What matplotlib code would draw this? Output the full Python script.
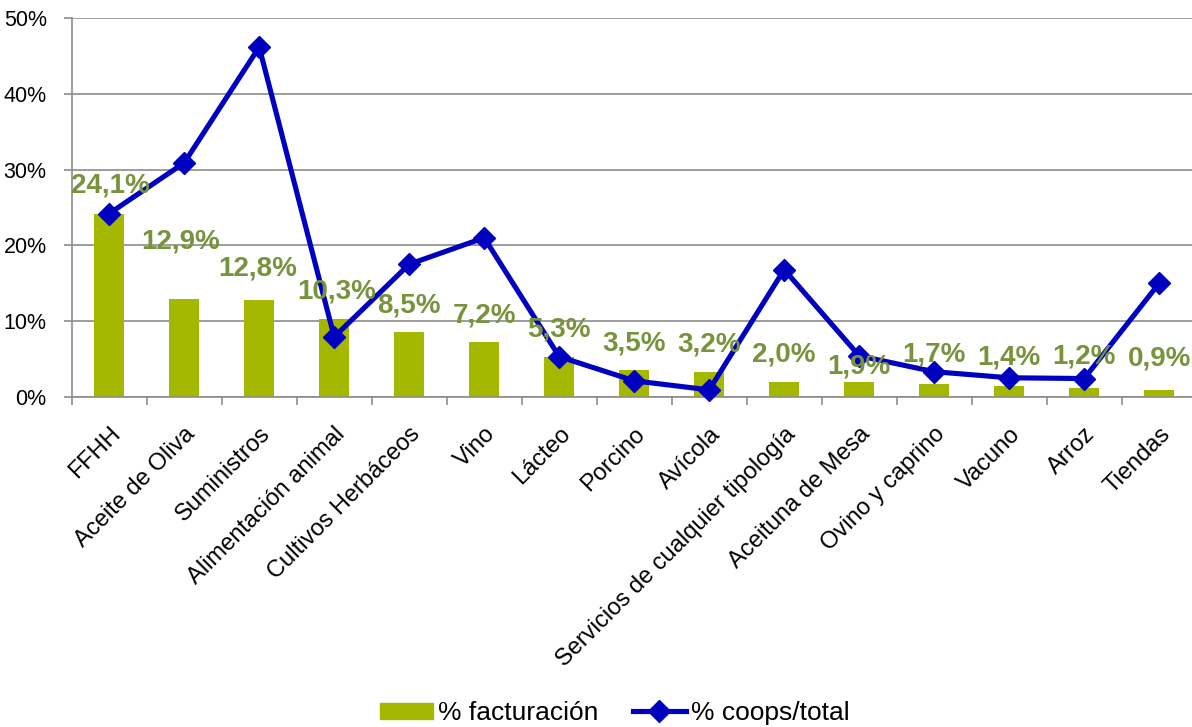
import matplotlib
matplotlib.use("Agg")
import matplotlib.pyplot as plt
from matplotlib.patches import Patch
from matplotlib.lines import Line2D
import numpy as np

plt.rcParams['font.family'] = ['Liberation Sans', 'DejaVu Sans']

categories = ["FFHH", "Aceite de Oliva", "Suministros", "Alimentación animal",
              "Cultivos Herbáceos", "Vino", "Lácteo", "Porcino", "Avícola",
              "Servicios de cualquier tipología", "Aceituna de Mesa",
              "Ovino y caprino", "Vacuno", "Arroz", "Tiendas"]
facturacion = [24.1, 12.9, 12.8, 10.3, 8.5, 7.2, 5.3, 3.5, 3.2, 2.0, 1.9, 1.7, 1.4, 1.2, 0.9]
coops_total = [24.2, 30.9, 46.2, 7.9, 17.5, 21.0, 5.3, 2.1, 0.9, 16.8, 5.4, 3.3, 2.5, 2.4, 15.0]
label_texts = ["24,1%", "12,9%", "12,8%", "10,3%", "8,5%", "7,2%", "5,3%", "3,5%",
               "3,2%", "2,0%", "1,9%", "1,7%", "1,4%", "1,2%", "0,9%"]
yticks = [0, 10, 20, 30, 40, 50]
ytick_labels = ["0%", "10%", "20%", "30%", "40%", "50%"]

# label offsets in pixels (style)
label_dx = [1, -4, -2, 2, 0, 0, 0, 0, 0, 0, 0, 0, 0, 0, 0]
label_dy = [29, 58, 31, 27, 27, 27, 27, 27, 28, 27, 16, 29, 29, 31, 31]

W, H = 1192, 727
fig = plt.figure(figsize=(W / 100, H / 100), dpi=100)
ax = fig.add_axes([71.7 / W, (H - 396.7) / H, (1196.7 - 71.7) / W, (396.7 - 18.3) / H])

x = np.arange(len(categories))
bar_color = "#A5B800"
line_color = "#0000C0"
label_color = "#77933C"

ax.bar(x, facturacion, width=0.4, color=bar_color, zorder=2)
ax.plot(x, coops_total, color=line_color, lw=3.7, marker="D", markersize=11,
        zorder=3, clip_on=False)

for xi, v, t, dx, dy in zip(x, facturacion, label_texts, label_dx, label_dy):
    ax.annotate(t, (xi, v), xytext=(dx * 0.72, dy * 0.72), textcoords="offset points",
                ha="center", va="center", fontsize=20, fontweight="bold",
                color=label_color, zorder=4)

ax.set_xlim(-0.5, len(categories) - 0.5)
ax.set_ylim(0, 50)
ax.set_yticks(yticks)
ax.set_yticklabels(ytick_labels, fontsize=15.5)
ax.yaxis.grid(True, color="#8C8C8C", lw=1.2, zorder=0)
ax.set_axisbelow(True)

ax.set_xticks(x)
ax.set_xticklabels(categories, rotation=45, ha="right", rotation_mode="anchor", fontsize=17)
ax.set_xticks(np.arange(-0.5, len(categories), 1.0), minor=True)
ax.tick_params(axis="x", which="major", length=0, pad=19)
ax.tick_params(axis="x", which="minor", length=6, color="#8C8C8C", width=1.2)
ax.tick_params(axis="y", length=6, color="#8C8C8C", width=1.2, pad=12)

for s in ["top", "right"]:
    ax.spines[s].set_visible(False)
for s in ["left", "bottom"]:
    ax.spines[s].set_color("#8C8C8C")
    ax.spines[s].set_linewidth(1.2)

handles = [Patch(color=bar_color, label="% facturación"),
           Line2D([0], [0], color=line_color, lw=3.7, marker="D", markersize=11,
                  label="% coops/total")]
fig.legend(handles=handles, loc="center", bbox_to_anchor=(615 / W, (H - 713) / H),
           ncol=2, frameon=False, fontsize=19, handlelength=2.0, handletextpad=0.2,
           columnspacing=1.3, handleheight=0.55)

fig.savefig("out.png", dpi=100)
